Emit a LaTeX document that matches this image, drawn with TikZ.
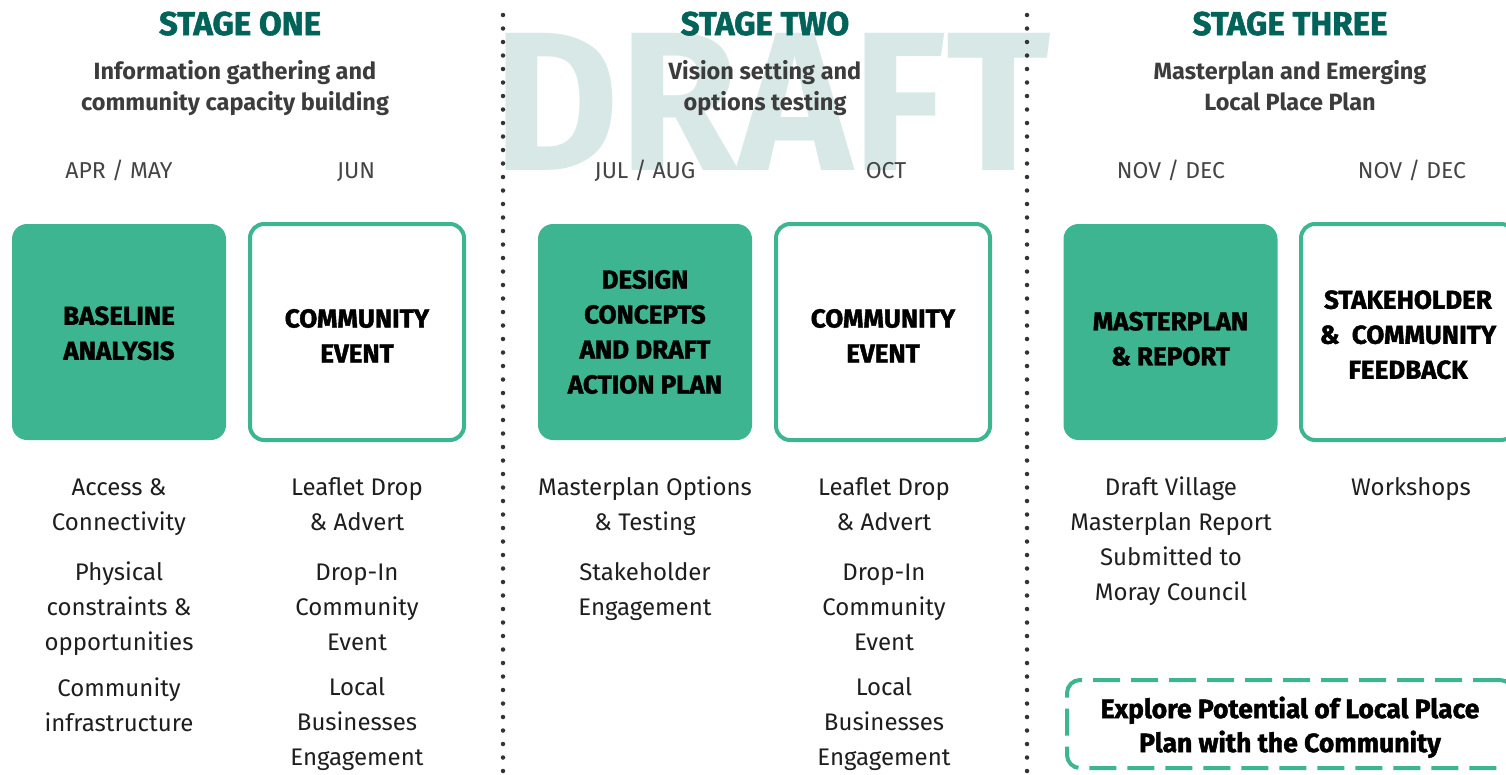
\documentclass[tikz,border=0pt]{standalone}
\usepackage{fontspec}
\setmainfont{Fira Sans}
\newfontfamily\heavyfam{Fira Sans}[BoldFeatures={FakeBold=1.6}]
\newcommand{\heavy}{\heavyfam\bfseries}
\newfontfamily\light{Fira Sans}
\newfontfamily\mediumfam{Fira Sans}
\newcommand{\medium}{\mediumfam\bfseries}
\definecolor{boxgreen}{HTML}{3DB590}
\definecolor{headteal}{HTML}{00635A}
\definecolor{draftc}{HTML}{D8E8E6}
\definecolor{dotc}{HTML}{333333}
\definecolor{subgray}{HTML}{3C3C3C}
\definecolor{monthgray}{HTML}{444444}
\definecolor{listc}{HTML}{1E1E1E}
\begin{document}
\begin{tikzpicture}[x=1pt,y=-1pt,
  every node/.style={inner sep=0pt, outer sep=0pt},
  stagehead/.style={font=\heavy\fontsize{33}{33}\selectfont, text=headteal, anchor=base},
  subtitle/.style={font=\medium\fontsize{23.5}{31}\selectfont, text=subgray, align=center, anchor=north},
  month/.style={font=\light\fontsize{23}{23}\selectfont, text=monthgray, anchor=base},
  fillbox/.style={fill=boxgreen, rounded corners=15pt, minimum width=214pt, minimum height=216pt,
    font=\heavy\fontsize{26}{35}\selectfont, align=center},
  openbox/.style={draw=boxgreen, line width=4pt, fill=white, rounded corners=14pt, minimum width=214pt,
    minimum height=216pt, font=\heavy\fontsize{26}{35}\selectfont, align=center},
  listtext/.style={font=\light\fontsize{24}{35}\selectfont, text=listc, align=center, anchor=north},
  dotline/.style={draw=dotc, line width=4.5pt, line cap=round, dash pattern=on 0pt off 13.5pt},
  dashbox/.style={draw=boxgreen, line width=4pt, rounded corners=13pt, dash pattern=on 27pt off 11pt,
    minimum width=446pt, minimum height=88pt, font=\heavy\fontsize{26.5}{34}\selectfont, align=center}
]
\useasboundingbox (0,0) rectangle (1506,774);
\clip (0,0) rectangle (1506,774);

% watermark
\node[font=\medium\fontsize{198}{198}\selectfont, text=draftc, anchor=base] (draft) at (772,170) {\scalebox{0.975}[1]{DRAFT}};

% separators
\coordinate (s1t) at (503,15);
\coordinate (s1b) at (503,774);
\coordinate (s2t) at (1027,15);
\coordinate (s2b) at (1027,774);
\draw[dotline] (s1t) -- (s1b);
\draw[dotline] (s2t) -- (s2b);

% stage headings
\node[stagehead] (h1) at (240,35) {STAGE ONE};
\node[stagehead] (h2) at (765,35) {STAGE TWO};
\node[stagehead] (h3) at (1290,35) {STAGE THREE};

\node[subtitle] (sub1) at (235,60) {Information gathering and\\community capacity building};
\node[subtitle] (sub2) at (765,60) {Vision setting and\\options testing};
\node[subtitle] (sub3) at (1290,60) {Masterplan and Emerging\\Local Place Plan};

% months
\node[month] (m1) at (119,178) {APR / MAY};
\node[month] (m2) at (356,178) {JUN};
\node[month] (m3) at (645,178) {JUL / AUG};
\node[month] (m4) at (886,178) {OCT};
\node[month] (m5) at (1171,178) {NOV / DEC};
\node[month] (m6) at (1412,178) {NOV / DEC};

% boxes
\node[fillbox, text height=56pt] (b1) at (119,332) {BASELINE\\ANALYSIS};
\node[openbox, text height=61pt] (b2) at (357,332) {COMMUNITY\\EVENT};
\node[fillbox] (b3) at (645,332) {DESIGN\\CONCEPTS\\AND DRAFT\\ACTION PLAN};
\node[openbox, text height=61pt] (b4) at (883,332) {COMMUNITY\\EVENT};
\node[fillbox, text height=67pt] (b5) at (1170.5,332) {MASTERPLAN\\\& REPORT};
\node[openbox, text height=94pt] (b6) at (1408,332) {STAKEHOLDER\\\&~~COMMUNITY\\FEEDBACK};

% lists
\node[listtext] (l1) at (119,479) {Access \&\\Connectivity\\[15pt]Physical\\constraints \&\\opportunities\\[11pt]Community\\infrastructure};
\node[listtext] (l2) at (357,477) {Leaflet Drop\\\& Advert\\[15pt]Drop-In\\Community\\Event\\[10pt]Local\\Businesses\\Engagement};
\node[listtext] (l3) at (645,477) {Masterplan Options\\\& Testing\\[15pt]Stakeholder\\Engagement};
\node[listtext] (l4) at (884,477) {Leaflet Drop\\\& Advert\\[15pt]Drop-In\\Community\\Event\\[10pt]Local\\Businesses\\Engagement};
\node[listtext] (l5) at (1171,477) {Draft Village\\Masterplan Report\\Submitted to\\Moray Council};
\node[listtext] (l6) at (1411,477) {Workshops};

% dashed box
\node[dashbox, text height=62pt] (lpp) at (1290,724) {Explore Potential of Local Place\\Plan with the Community};
\end{tikzpicture}
\end{document}
